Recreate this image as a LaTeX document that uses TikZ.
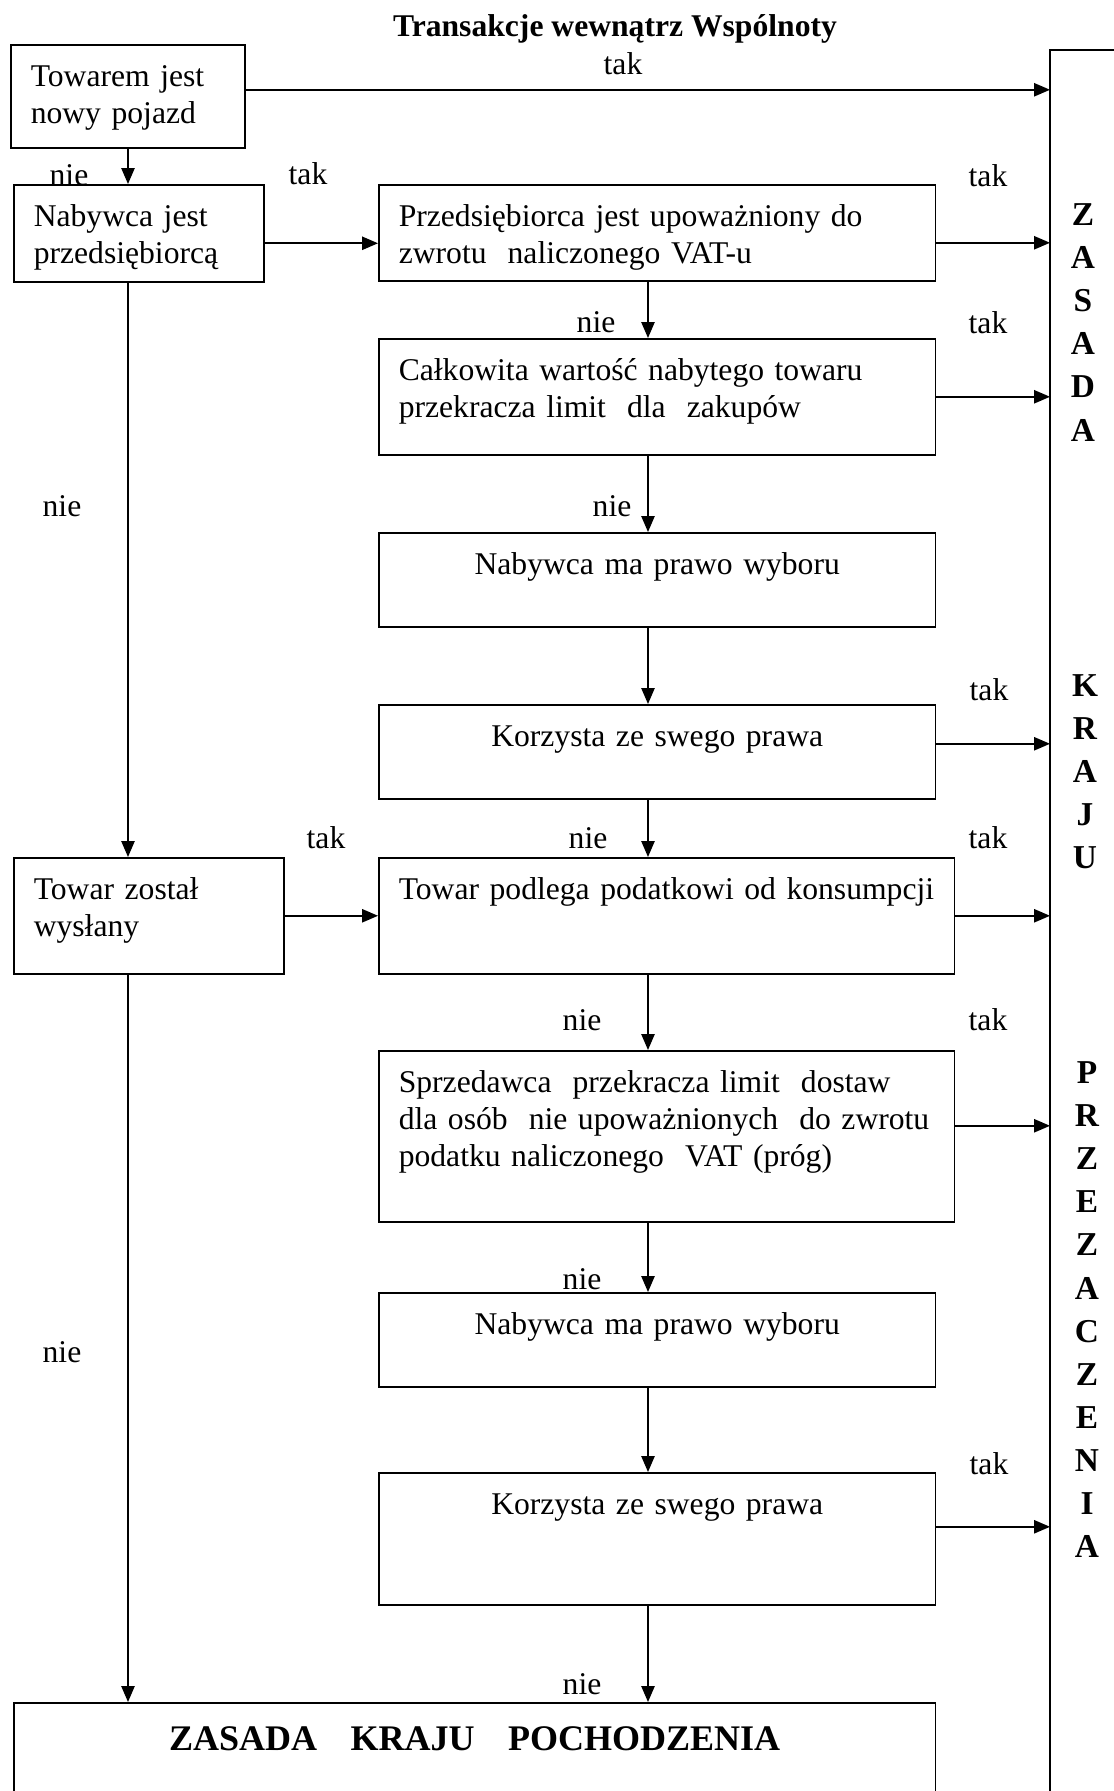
\documentclass[tikz,border=0pt]{standalone}
\usepackage{fontspec}
\setmainfont{Liberation Serif}
\usetikzlibrary{arrows.meta, positioning}

\begin{document}
\begin{tikzpicture}[
    x=0.02cm, y=-0.02cm,
    >={Triangle[length=9pt, width=7.5pt]},
    line width=0.9pt,
    font=\fontsize{18}{21}\selectfont,
    box/.style={draw, anchor=north west, inner xsep=0.4cm, inner ysep=0pt, align=left, text height=0.84cm},
    cbox/.style={box, align=center},
    flow/.style={->},
    answer/.style={inner sep=0pt},
    letters/.style={anchor=north, inner sep=0pt, align=center, text width=0.8cm, text height=0.5cm,
        font=\fontsize{19}{24.5}\selectfont\bfseries}
]
    \useasboundingbox (0,0) rectangle (1114,1791);
    \clip (0,0) rectangle (1114,1791);

    % Tytul
    \node[anchor=base, font=\fontsize{18}{21}\selectfont\bfseries] (title) at (615,37) {Transakcje wewnątrz Wspólnoty};

    % Prawa kolumna (zasada kraju przeznaczenia)
    \coordinate (zk) at (1050,50);
    \draw (1050,1800) -- (zk) -- (1130,50);
    \node[letters] (zasada) at (1083,200) {Z\\A\\S\\A\\D\\A};
    \node[letters] (kraju) at (1085,671) {K\\R\\A\\J\\U};
    \node[letters] (przezn) at (1087,1058) {P\\R\\Z\\E\\Z\\A\\C\\Z\\E\\N\\I\\A};

    % Lewa kolumna
    \node[box, text width=3.88cm, text depth=1.22cm] (b1) at (10,44) {Towarem jest\\nowy pojazd};
    \node[box, text width=4.2cm, text depth=1.1cm] (b2) at (13,184) {Nabywca jest\\przedsiębiorcą};
    \node[box, text width=4.6cm, text depth=1.48cm] (b7) at (13,857) {Towar został\\wysłany};

    % Srodkowa kolumna
    \node[box, text width=10.34cm, text depth=1.08cm] (b3) at (378,184)
        {Przedsiębiorca jest upoważniony do\\zwrotu\ \ naliczonego VAT-u};
    \node[box, text width=10.34cm, text depth=1.48cm] (b4) at (378,338)
        {Całkowita wartość nabytego towaru\\przekracza limit\ \ dla\ \ zakupów};
    \node[cbox, text width=10.34cm, text depth=1.04cm] (b5) at (378,532) {Nabywca ma prawo wyboru};
    \node[cbox, text width=10.34cm, text depth=1.04cm] (b6) at (378,704) {Korzysta ze swego prawa};
    \node[box, text width=10.72cm, text depth=1.48cm] (b8) at (378,857)
        {Towar podlega podatkowi od konsumpcji};
    \node[box, text width=10.72cm, text depth=2.58cm] (b9) at (378,1050)
        {Sprzedawca\ \ przekracza limit\ \ dostaw\\dla osób\ \ nie upoważnionych\ \ do zwrotu\\podatku naliczonego\ \ VAT (próg)};
    \node[cbox, text width=10.34cm, text depth=1.04cm] (b10) at (378,1292) {Nabywca ma prawo wyboru};
    \node[cbox, text width=10.34cm, text depth=1.8cm] (b11) at (378,1472) {Korzysta ze swego prawa};

    % Zasada kraju pochodzenia
    \node[cbox, text width=17.64cm, text height=0.96cm, text depth=1.0cm,
        font=\fontsize{20.5}{24}\selectfont\bfseries] (b12) at (13,1702)
        {ZASADA\hspace{19pt}KRAJU\hspace{19pt}POCHODZENIA};

    % Strzalki w prawo (tak)
    \draw[flow] ([yshift=0.13cm]b1.east) -- ([yshift=0.13cm]b1.east -| zk);
    \draw[flow] ([yshift=-0.2cm]b2.east) -- ([yshift=-0.2cm]b2.east -| b3.west);
    \draw[flow] ([yshift=-0.2cm]b3.east) -- ([yshift=-0.2cm]b3.east -| zk);
    \draw[flow] (b7) -- (b8);
    \foreach \b in {b4, b8}
        \draw[flow] (\b) -- (\b -| zk);
    \draw[flow] ([yshift=0.16cm]b6.east) -- ([yshift=0.16cm]b6.east -| zk);
    \draw[flow] ([yshift=0.21cm]b9.east) -- ([yshift=0.21cm]b9.east -| zk);
    \draw[flow] ([yshift=0.24cm]b11.east) -- ([yshift=0.24cm]b11.east -| zk);

    % Strzalki w dol (nie)
    \coordinate (lc) at (128,0);
    \coordinate (mc) at (648,0);
    \draw[flow] (b1.south -| lc) -- (b2.north -| lc);
    \draw[flow] (b2.south -| lc) -- (b7.north -| lc);
    \draw[flow] (b7.south -| lc) -- (b12.north -| lc);
    \foreach \a/\b in {b3/b4, b4/b5, b5/b6, b6/b8, b8/b9, b9/b10, b10/b11, b11/b12}
        \draw[flow] (\a.south -| mc) -- (\b.north -| mc);

    % Odpowiedzi
    \node[answer] (t1) at (623,64) {tak};
    \node[answer] (n1) at (69,175) {nie};
    \node[answer] (t2) at (308,174) {tak};
    \node[answer] (t3) at (988,176) {tak};
    \node[answer] (n2) at (596,322) {nie};
    \node[answer] (t4) at (988,323) {tak};
    \node[answer] (n3) at (62,506) {nie};
    \node[answer] (n4) at (612,506) {nie};
    \node[answer] (t5) at (989,690) {tak};
    \node[answer] (t6) at (326,838) {tak};
    \node[answer] (n5) at (588,838) {nie};
    \node[answer] (t7) at (988,838) {tak};
    \node[answer] (n6) at (582,1020) {nie};
    \node[answer] (t8) at (988,1020) {tak};
    \node[answer] (n7) at (582,1279) {nie};
    \node[answer] (n8) at (62,1352) {nie};
    \node[answer] (t9) at (989,1464) {tak};
    \node[answer] (n9) at (582,1684) {nie};
\end{tikzpicture}
\end{document}
